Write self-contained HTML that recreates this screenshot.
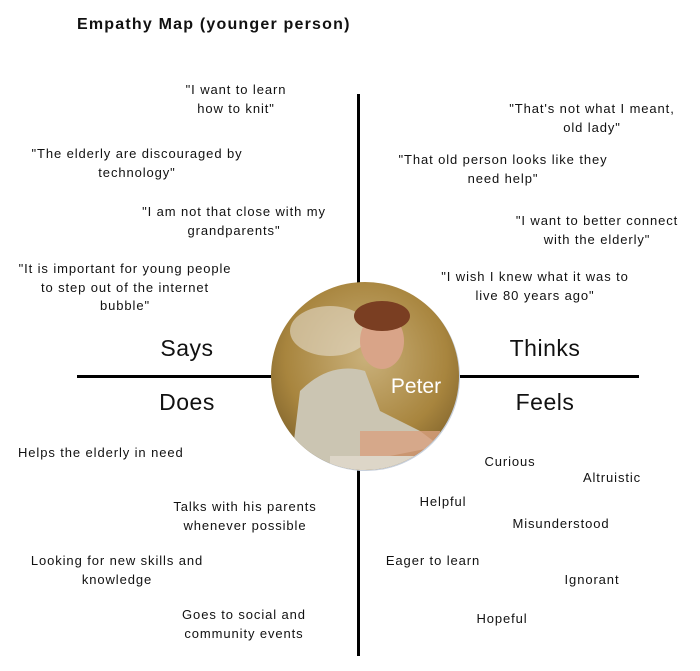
<!DOCTYPE html><html><head><style>
body{margin:0;width:700px;height:671px;background:#fff;position:relative;font-family:"Liberation Sans",sans-serif;color:#111;overflow:hidden}
.t{position:absolute;width:300px;text-align:center;font-size:13px;line-height:18.5px;letter-spacing:0.9px}
.h{position:absolute;width:200px;text-align:center;font-size:23px;font-weight:500;letter-spacing:0.5px}
</style></head><body>
<div style="position:absolute;left:77px;top:16px;font-size:16px;font-weight:bold;letter-spacing:1.2px">Empathy Map (younger person)</div>
<div style="position:absolute;left:357px;top:94px;width:3px;height:562px;background:#000"></div>
<div style="position:absolute;left:77px;top:375px;width:562px;height:3px;background:#000"></div>
<svg style="position:absolute;left:270px;top:281px" width="192" height="192">
<defs><radialGradient id="bg" cx="0.5" cy="0.4" r="0.7"><stop offset="0" stop-color="#c9b07a"/><stop offset="0.6" stop-color="#a8853e"/><stop offset="1" stop-color="#6e5424"/></radialGradient>
<clipPath id="c"><circle cx="95" cy="95" r="94"/></clipPath></defs>
<circle cx="96" cy="96" r="94" fill="#c8d0dc"/>
<g clip-path="url(#c)"><rect width="192" height="192" fill="url(#bg)"/>
<ellipse cx="60" cy="50" rx="40" ry="25" fill="#e4dccb" opacity="0.6"/>
<path d="M20 192 L30 110 Q60 80 95 90 L110 130 L150 150 L170 165 L120 175 L60 192Z" fill="#cbc5b2"/>
<ellipse cx="112" cy="60" rx="22" ry="28" fill="#d9a488"/>
<ellipse cx="112" cy="35" rx="28" ry="15" fill="#7a3e22"/>
<rect x="90" y="150" width="80" height="30" fill="#d8a080" opacity="0.8"/>
<rect x="60" y="175" width="100" height="20" fill="#ddd6c8"/></g>
<text x="146" y="112" font-family="Liberation Sans" font-size="21" fill="#fff" text-anchor="middle" font-weight="500">Peter</text>
</svg>
<div class="t" style="left:86px;top:81px">"I want to learn<br>how to knit"</div>
<div class="t" style="left:-13px;top:145px">"The elderly are discouraged by<br>technology"</div>
<div class="t" style="left:84px;top:203px">"I am not that close with my<br>grandparents"</div>
<div class="t" style="left:-25px;top:260px">"It is important for young people<br>to step out of the internet<br>bubble"</div>
<div class="t" style="left:442px;top:100px">"That's not what I meant,<br>old lady"</div>
<div class="t" style="left:353px;top:151px">"That old person looks like they<br>need help"</div>
<div class="t" style="left:447px;top:212px">"I want to better connect<br>with the elderly"</div>
<div class="t" style="left:385px;top:268px">"I wish I knew what it was to<br>live 80 years ago"</div>
<div class="h" style="left:87px;top:335px">Says</div>
<div class="h" style="left:445px;top:335px">Thinks</div>
<div class="h" style="left:87px;top:389px">Does</div>
<div class="h" style="left:445px;top:389px">Feels</div>
<div class="t" style="left:18px;top:444px;text-align:left">Helps the elderly in need</div>
<div class="t" style="left:95px;top:498px">Talks with his parents<br>whenever possible</div>
<div class="t" style="left:-33px;top:552px">Looking for new skills and<br>knowledge</div>
<div class="t" style="left:94px;top:606px">Goes to social and<br>community events</div>
<div class="t" style="left:360px;top:453px">Curious</div>
<div class="t" style="left:462px;top:469px">Altruistic</div>
<div class="t" style="left:293px;top:493px">Helpful</div>
<div class="t" style="left:411px;top:515px">Misunderstood</div>
<div class="t" style="left:283px;top:552px">Eager to learn</div>
<div class="t" style="left:442px;top:571px">Ignorant</div>
<div class="t" style="left:352px;top:610px">Hopeful</div>
</body></html>
